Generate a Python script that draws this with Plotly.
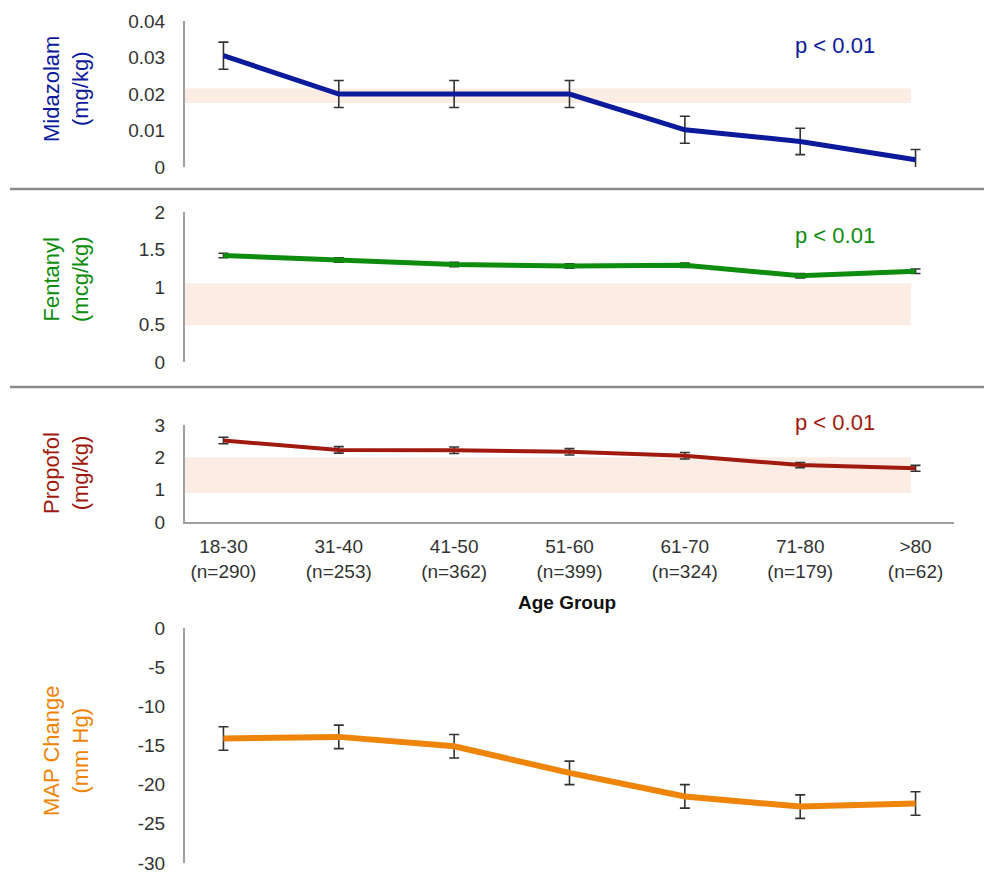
import plotly.graph_objects as go

W, H = 992, 873
OFF = 8                      # default page body margin
FW, FH = W - 2 * OFF, H - OFF

categories = ["18-30", "31-40", "41-50", "51-60", "61-70", "71-80", ">80"]
n_counts = [290, 253, 362, 399, 324, 179, 62]
tick_text = [f"{c}<br>(n={n})" for c, n in zip(categories, n_counts)]

midazolam = [0.0305, 0.020, 0.020, 0.020, 0.0102, 0.0070, 0.0020]
midazolam_err = [0.0037, 0.0037, 0.0037, 0.0037, 0.0037, 0.0036, 0.0028]
fentanyl = [1.42, 1.36, 1.30, 1.28, 1.29, 1.15, 1.21]
fentanyl_err = [0.03, 0.03, 0.03, 0.03, 0.03, 0.03, 0.03]
propofol = [2.52, 2.23, 2.22, 2.17, 2.05, 1.76, 1.66]
propofol_err = [0.10, 0.10, 0.10, 0.10, 0.10, 0.08, 0.09]
map_change = [-14.1, -13.9, -15.1, -18.5, -21.5, -22.8, -22.4]
map_err = [1.5, 1.5, 1.5, 1.5, 1.5, 1.5, 1.5]

mid_ticks = [0, 0.01, 0.02, 0.03, 0.04]
mid_ticktext = ["0", "0.01", "0.02", "0.03", "0.04"]
fen_ticks = [0, 0.5, 1, 1.5, 2]
fen_ticktext = ["0", "0.5", "1", "1.5", "2"]
pro_ticks = [0, 1, 2, 3]
pro_ticktext = ["0", "1", "2", "3"]
map_ticks = [0, -5, -10, -15, -20, -25, -30]
map_ticktext = ["0", "-5", "-10", "-15", "-20", "-25", "-30"]

# recommended dose ranges (shaded bands)
mid_band = [0.0175, 0.0215]
fen_band = [0.49, 1.05]
pro_band = [0.9, 2.0]

C_MID = "#0c1a9c"
C_FEN = "#0e8c0e"
C_PRO = "#a01a10"
C_MAP = "#ee8408"
BAND = "#fbece4"
AX = "#a0a0a0"
FONT = "Liberation Sans, Arial, sans-serif"


def px(x):
    return (x - OFF) / FW


def py(y):
    return 1 - (y - OFF) / FH


fig = go.Figure()

series = [
    (midazolam, midazolam_err, C_MID, "y", 5),
    (fentanyl, fentanyl_err, C_FEN, "y2", 5),
    (propofol, propofol_err, C_PRO, "y3", 4),
    (map_change, map_err, C_MAP, "y4", 6),
]
for vals, err, col, ya, lw in series:
    fig.add_trace(go.Scatter(
        x=categories, y=vals, mode="lines", yaxis=ya, xaxis="x",
        line=dict(color=col, width=lw),
        error_y=dict(type="data", array=err, visible=True,
                     color="#333333", thickness=1.6, width=5),
        showlegend=False, hoverinfo="skip",
    ))

common_y = dict(showgrid=False, zeroline=False, showline=True,
                linecolor=AX, linewidth=2, ticks="", automargin=False,
                tickfont=dict(family=FONT, size=19, color="#333333"),
                ticklabelstandoff=14, ticklabeloverflow="allow",
                anchor="x", tickmode="array")

fig.update_layout(
    width=FW, height=FH,
    margin=dict(l=0, r=0, t=0, b=0, autoexpand=False),
    paper_bgcolor="white", plot_bgcolor="white",
    font=dict(family=FONT),
    xaxis=dict(domain=[px(185), px(954)], anchor="y3", type="category",
               tickmode="array", tickvals=categories, ticktext=tick_text,
               showline=True, linecolor=AX, linewidth=2, ticks="",
               showgrid=False, zeroline=False, automargin=False,
               tickfont=dict(family=FONT, size=19, color="#333333"),
               ticklabelstandoff=6),
    yaxis=dict(domain=[py(167), py(21)], range=[0, 0.04],
               tickvals=mid_ticks, ticktext=mid_ticktext, **common_y),
    yaxis2=dict(domain=[py(362), py(212)], range=[0, 2],
                tickvals=fen_ticks, ticktext=fen_ticktext, **common_y),
    yaxis3=dict(domain=[py(522), py(425)], range=[0, 3],
                tickvals=pro_ticks, ticktext=pro_ticktext, **common_y),
    yaxis4=dict(domain=[py(863), py(628)], range=[-30.001, 0],
                tickvals=map_ticks, ticktext=map_ticktext, **common_y),
)

band_x1 = (911 - 185) / (954 - 185)
for ya, band in [("y", mid_band), ("y2", fen_band), ("y3", pro_band)]:
    fig.add_shape(type="rect", xref="x domain", yref=ya,
                  x0=0, x1=band_x1, y0=band[0], y1=band[1],
                  fillcolor=BAND, line=dict(width=0), layer="below")

for ysep in [189, 387]:
    fig.add_shape(type="line", xref="paper", yref="paper",
                  x0=px(10), x1=1, y0=py(ysep), y1=py(ysep),
                  line=dict(color="#8a8a8a", width=2.5))

# y titles
for text, col, cy in [
    ("Midazolam<br>(mg/kg)", C_MID, 89),
    ("Fentanyl<br>(mcg/kg)", C_FEN, 279),
    ("Propofol<br>(mg/kg)", C_PRO, 473),
    ("MAP Change<br>(mm Hg)", C_MAP, 751),
]:
    fig.add_annotation(text=text, xref="paper", yref="paper",
                       x=px(66), y=py(cy), xanchor="center", yanchor="middle",
                       textangle=-90, showarrow=False,
                       font=dict(family=FONT, size=22, color=col))

# p-values
for col, cy in [(C_MID, 46), (C_FEN, 236), (C_PRO, 422)]:
    fig.add_annotation(text="p < 0.01", xref="paper", yref="paper",
                       x=px(835), y=py(cy), xanchor="center", yanchor="middle",
                       showarrow=False,
                       font=dict(family=FONT, size=22, color=col))

fig.add_annotation(text="<b>Age Group</b>", xref="paper", yref="paper",
                   x=px(567), y=py(602), xanchor="center", yanchor="middle",
                   showarrow=False, font=dict(family=FONT, size=19, color="#111111"))

fig.write_html("out.html")
